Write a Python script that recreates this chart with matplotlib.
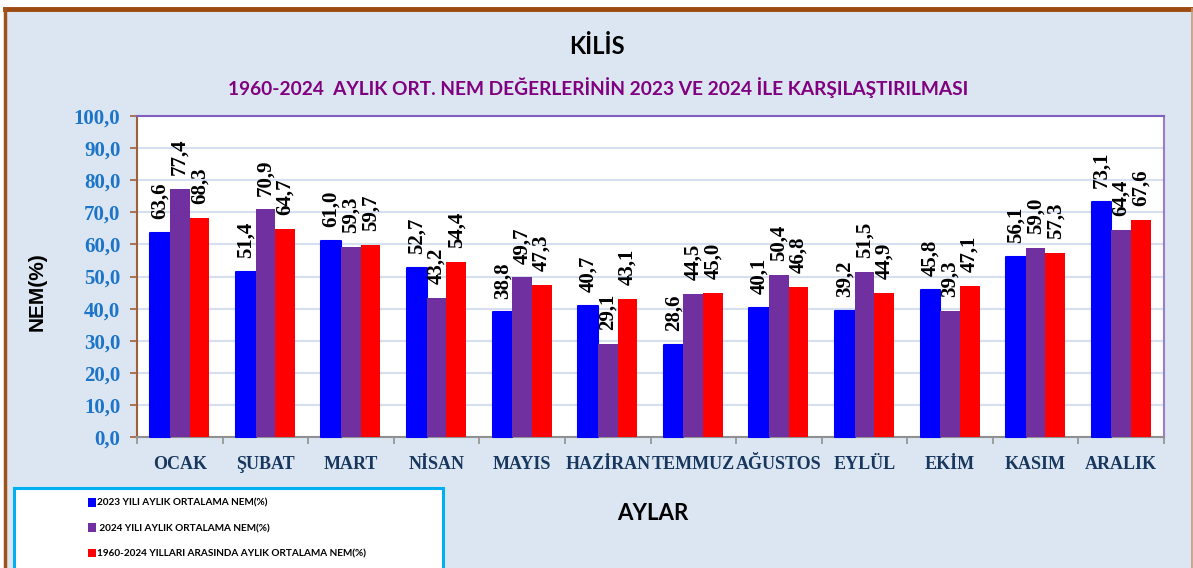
import matplotlib
matplotlib.use("Agg")
import matplotlib.pyplot as plt
from matplotlib.patches import Rectangle, Patch
import numpy as np

months = ["OCAK", "ŞUBAT", "MART", "NİSAN", "MAYIS", "HAZİRAN", "TEMMUZ",
          "AĞUSTOS", "EYLÜL", "EKİM", "KASIM", "ARALIK"]
nem_2023 = [63.6, 51.4, 61.0, 52.7, 38.8, 40.7, 28.6, 40.1, 39.2, 45.8, 56.1, 73.1]
nem_2024 = [77.4, 70.9, 59.3, 43.2, 49.7, 29.1, 44.5, 50.4, 51.5, 39.3, 59.0, 64.4]
nem_avg = [68.3, 64.7, 59.7, 54.4, 47.3, 43.1, 45.0, 46.8, 44.9, 47.1, 57.3, 67.6]
series_labels = ["2023 YILI AYLIK ORTALAMA NEM(%)",
                 " 2024 YILI AYLIK ORTALAMA NEM(%)",
                 "1960-2024 YILLARI ARASINDA AYLIK ORTALAMA NEM(%)"]
colors = ["#0000FF", "#7030A0", "#FF0000"]

W, H = 1193, 568
fig = plt.figure(figsize=(W / 100, H / 100), dpi=100, facecolor="white")

# outer panel
fig.patches.append(Rectangle((5 / W, 0), 1187 / W, 1 - 9 / H, transform=fig.transFigure,
                             facecolor="#DCE6F2", edgecolor="none", zorder=-10))
fig.add_artist(plt.Line2D([5 / W, 1192 / W], [1 - 9 / H, 1 - 9 / H], transform=fig.transFigure,
                          color="#9C4A0F", lw=3.5))
fig.add_artist(plt.Line2D([5 / W, 5 / W], [0, 1 - 9 / H], transform=fig.transFigure,
                          color="#A0521C", lw=2.5))
fig.add_artist(plt.Line2D([1191.5 / W, 1191.5 / W], [0, 1 - 9 / H], transform=fig.transFigure,
                          color="#C49A78", lw=1.2))

ax = fig.add_axes([137 / W, 1 - 437 / H, (1164 - 137) / W, (437 - 116) / H])
ax.set_facecolor("white")

x = np.arange(len(months))
bw = 0.23
all_series = [nem_2023, nem_2024, nem_avg]
for i, (vals, c) in enumerate(zip(all_series, colors)):
    if i == 0:
        ax.bar(x + (i - 1) * bw, vals, bw, color=c, edgecolor=c, linewidth=1.5,
               joinstyle="round", zorder=3, clip_on=False)
    else:
        ax.bar(x + (i - 1) * bw, vals, bw, color=c, linewidth=0, zorder=3)
    for xi, v in zip(x + (i - 1) * bw, vals):
        ax.annotate(f"{v:.1f}".replace(".", ","), (xi, v), xytext=(0, 10),
                    textcoords="offset points", rotation=90, ha="center", va="bottom",
                    fontsize=15, fontweight="bold", family="Liberation Serif",
                    color="black", zorder=4)

ax.set_xlim(-0.5, len(months) - 0.5)
ax.set_ylim(0, 100)
yt = np.arange(0, 101, 10)
ax.set_yticks(yt)
ax.set_yticklabels([f"{v:.1f}".replace(".", ",") for v in yt],
                   fontsize=15, fontweight="bold", family="Liberation Serif", color="#1C75C8")
ax.tick_params(axis="y", direction="out", length=5, width=1.2, color="#A0603A", pad=7)

ax.set_xticks(x)
ax.set_xticklabels(months, fontsize=13, fontweight="bold", family="Liberation Serif",
                   color="#17375E")
ax.tick_params(axis="x", which="major", length=0, pad=14)
ax.set_xticks(np.arange(-0.5, len(months), 1), minor=True)
ax.tick_params(axis="x", which="minor", direction="out", length=5, width=1.2, color="#909090")

ax.grid(axis="y", color="#D6DFF0", lw=1.5, zorder=0)
ax.set_axisbelow(True)
ax.spines["left"].set_color("#A0603A")
ax.spines["left"].set_linewidth(1.5)
ax.spines["bottom"].set_color("#909090")
ax.spines["bottom"].set_linewidth(1.5)
ax.spines["top"].set_color("#7F5FBF")
ax.spines["top"].set_linewidth(1.5)
ax.spines["right"].set_color("#9A7CC8")
ax.spines["right"].set_linewidth(1.5)

fig.text(597 / W, 1 - 47 / H, "KİLİS", ha="center", va="center", fontsize=17,
         fontweight="bold", family="Lato", color="black")
fig.text(598 / W, 1 - 88 / H, "1960-2024  AYLIK ORT. NEM DEĞERLERİNİN 2023 VE 2024 İLE KARŞILAŞTIRILMASI",
         ha="center", va="center", fontsize=13.8, fontweight="bold", family="Lato",
         color="#800080")
fig.text(37 / W, 1 - 292 / H, "NEM(%)", ha="center", va="center", rotation=90,
         fontsize=15, fontweight="bold", family="Liberation Sans", color="black")
fig.text(653 / W, 1 - 513 / H, "AYLAR", ha="center", va="center", fontsize=16,
         fontweight="bold", family="Lato", color="black")

# legend box
fig.patches.append(Rectangle((14 / W, -0.01), (443 - 14) / W, 1 - 488 / H + 0.01,
                             transform=fig.transFigure, facecolor="white",
                             edgecolor="#00B0F0", lw=2.2, zorder=1))
handles = [Patch(facecolor=c, edgecolor="none") for c in colors]
fig.legend(handles, series_labels, loc="upper left",
           bbox_to_anchor=(79 / W, 1 - 489 / H), bbox_transform=fig.transFigure,
           frameon=False, handlelength=0.75, handleheight=0.95, handletextpad=0.15,
           labelspacing=1.55, prop={"family": "Lato", "weight": "bold", "size": 7.2})

fig.savefig("out.png", dpi=100, facecolor=fig.get_facecolor())
